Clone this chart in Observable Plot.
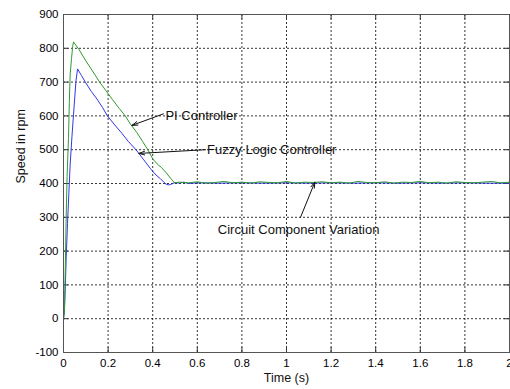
<!DOCTYPE html>
<html>
<head>
<meta charset="utf-8">
<script src="https://cdn.jsdelivr.net/npm/d3@7"></script>
<script src="https://cdn.jsdelivr.net/npm/@observablehq/plot@0.6"></script>
<style>
  html, body { margin: 0; padding: 0; background: #fff; }
  #chart svg { display: block; }
</style>
</head>
<body>
<div id="chart"></div>
<script>
// ---- Data ----
const piTime = [0, 0.004, 0.008, 0.012, 0.016, 0.0225, 0.026, 0.03, 0.036, 0.041, 0.045,
  0.07, 0.1, 0.13, 0.162, 0.19, 0.22, 0.25, 0.277, 0.3, 0.33, 0.355, 0.378, 0.4, 0.42, 0.44,
  0.46, 0.48, 0.497, 0.52, 0.56, 0.6, 0.64, 0.68, 0.72, 0.76, 0.8, 0.84, 0.88, 0.92, 0.96,
  1.0, 1.04, 1.08, 1.12, 1.16, 1.2, 1.24, 1.28, 1.32, 1.36, 1.4, 1.44, 1.48, 1.52, 1.56,
  1.6, 1.64, 1.68, 1.72, 1.76, 1.8, 1.84, 1.88, 1.92, 1.96, 2.0];
const piSpeed = [0, 20, 150, 300, 420, 536, 640, 724, 770, 805, 819,
  796, 763, 733, 700, 675, 648, 622, 600, 576, 550, 524, 500, 473, 458, 447,
  432, 416, 402, 404, 402, 405, 401, 403, 406, 402, 404, 401, 405, 403,
  402, 406, 401, 404, 403, 405, 402, 404, 401, 406, 403, 402, 405, 401,
  404, 403, 406, 402, 404, 401, 405, 403, 402, 404, 406, 402, 404];

const fuzzyTime = [0, 0.004, 0.008, 0.012, 0.018, 0.024, 0.03, 0.038, 0.045, 0.05, 0.056,
  0.063, 0.08, 0.098, 0.125, 0.15, 0.175, 0.197, 0.23, 0.26, 0.29, 0.325, 0.36, 0.39,
  0.415, 0.435, 0.45, 0.46, 0.47, 0.48, 0.49, 0.5, 0.52, 0.54, 0.56, 0.6, 0.7, 0.8, 0.9,
  1.0, 1.1, 1.2, 1.3, 1.4, 1.5, 1.6, 1.7, 1.8, 1.9, 2.0];
const fuzzySpeed = [0, 20, 90, 180, 281, 370, 458, 540, 605, 650, 704,
  739, 720, 700, 672, 650, 625, 600, 573, 550, 525, 500, 470, 444,
  425, 414, 404, 398, 396, 397, 400, 403, 401, 404, 400, 402, 401, 402, 401,
  402, 401, 402, 401, 402, 401, 402, 401, 402, 401, 401];

const xTicks = [0, 0.2, 0.4, 0.6, 0.8, 1, 1.2, 1.4, 1.6, 1.8, 2];
const yTicks = [-100, 0, 100, 200, 300, 400, 500, 600, 700, 800, 900];

const annLabels = ["PI Controller", "Fuzzy Logic Controller", "Circuit Component Variation"];
const annTextX = [0.457, 0.644, 0.692];
const annTextY = [601, 500, 264];
const annTailX = [0.448, 0.637, 1.063];
const annTailY = [606, 500, 300];
const annTipX = [0.307, 0.338, 1.127];
const annTipY = [572, 489, 404];

// ---- Build tables ----
const pi = piTime.map((t, i) => ({t, v: piSpeed[i]}));
const fuzzy = fuzzyTime.map((t, i) => ({t, v: fuzzySpeed[i]}));
const ann = annLabels.map((label, i) => ({
  label, tx: annTextX[i], ty: annTextY[i],
  x1: annTailX[i], y1: annTailY[i], x2: annTipX[i], y2: annTipY[i]
}));
const innerX = xTicks.slice(1, -1);
const innerY = yTicks.slice(1, -1);

const font = "'Liberation Sans', Arial, Helvetica, sans-serif";
const frameH = 338, frameW = 446, tickLen = 5;

const chart = Plot.plot({
  width: 510,
  height: 389,
  marginLeft: 63,
  marginRight: 1,
  marginTop: 14,
  marginBottom: 37,
  style: {fontFamily: font, background: "#fff", color: "#000"},
  x: {domain: [0, 2]},
  y: {domain: [-100, 900]},
  marks: [
    Plot.gridX(innerX, {stroke: "#000", strokeOpacity: 0.8, strokeDasharray: "2,2"}),
    Plot.gridY(innerY, {stroke: "#000", strokeOpacity: 0.8, strokeDasharray: "2,2"}),
    // inner ticks on all four sides
    Plot.tickX(xTicks, {x: d => d, stroke: "#333", insetTop: frameH - tickLen}),
    Plot.tickX(xTicks, {x: d => d, stroke: "#333", insetBottom: frameH - tickLen}),
    Plot.tickY(yTicks, {y: d => d, stroke: "#333", insetRight: frameW - tickLen}),
    Plot.tickY(yTicks, {y: d => d, stroke: "#333", insetLeft: frameW - tickLen}),
    Plot.axisX({ticks: xTicks, tickSize: 0, tickPadding: 6, fontSize: 11.5, label: null,
      tickFormat: d => String(d)}),
    Plot.axisY({ticks: yTicks, tickSize: 0, tickPadding: 5, fontSize: 11.5, label: null,
      tickFormat: d => String(d)}),
    Plot.line(fuzzy, {x: "t", y: "v", stroke: "#3535e8", strokeWidth: 1}),
    Plot.line(pi, {x: "t", y: "v", stroke: "#2f9a2f", strokeWidth: 1}),
    Plot.arrow(ann, {x1: "x1", y1: "y1", x2: "x2", y2: "y2", stroke: "#111",
      strokeWidth: 1, headLength: 9, headAngle: 35}),
    Plot.text(ann, {x: "tx", y: "ty", text: "label", textAnchor: "start",
      fontSize: 13, fill: "#111"}),
    Plot.frame({stroke: "#555"}),
    Plot.text(["Time (s)"], {frameAnchor: "bottom", dy: 29, fontSize: 12.5, fill: "#111"}),
    Plot.text(["Speed in rpm"], {frameAnchor: "left", dx: -43, rotate: -90, fontSize: 12.5, fill: "#111"})
  ]
});
document.getElementById("chart").appendChild(chart);
</script>
</body>
</html>
